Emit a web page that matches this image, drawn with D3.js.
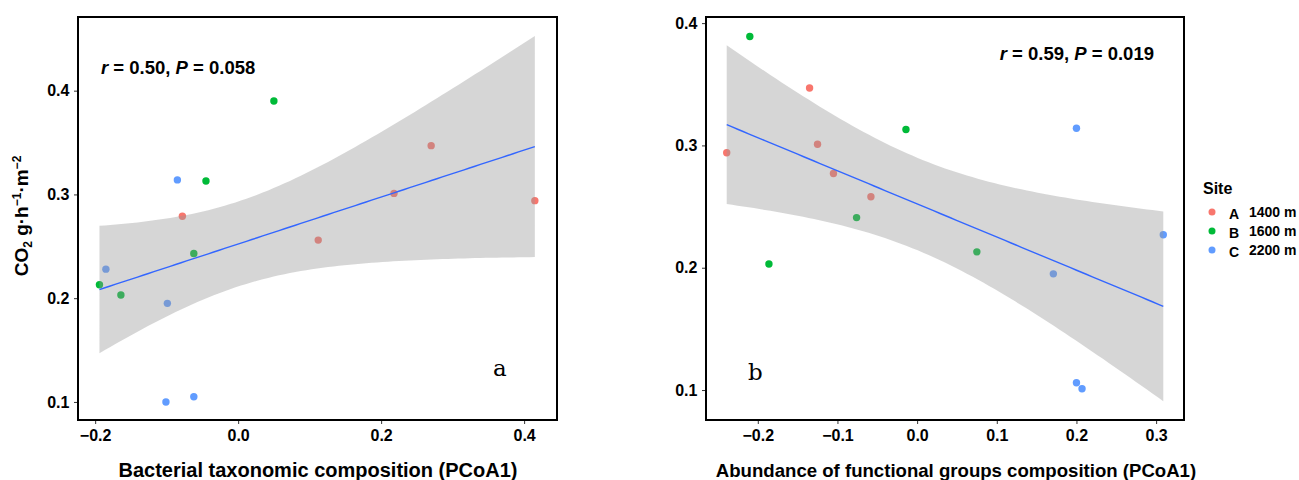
<!DOCTYPE html>
<html>
<head>
<meta charset="utf-8">
<script src="https://cdn.jsdelivr.net/npm/d3@7"></script>
<style>
  body { margin: 0; background: #fff; }
</style>
</head>
<body>
<svg id="chart" width="1299" height="480" font-family="Liberation Sans, Arial, sans-serif"></svg>
<script>
// site groups
var sites = ["A", "B", "C"];
var siteLabels = ["1400 m", "1600 m", "2200 m"];
var siteColors = ["#F8766D", "#00BA38", "#619CFF"];

// panel a: bacterial taxonomic composition (PCoA1) vs CO2
var aSite = ["A","A","A","A","A", "B","B","B","B","B", "C","C","C","C","C"];
var aX = [0.270, 0.218, 0.112, 0.415, -0.078, 0.050, -0.045, -0.062, -0.164, -0.194, -0.085, -0.185, -0.099, -0.101, -0.062];
var aY = [0.347, 0.301, 0.256, 0.294, 0.279, 0.390, 0.313, 0.243, 0.203, 0.213, 0.314, 0.228, 0.195, 0.100, 0.105];

// panel b: abundance of functional groups composition (PCoA1) vs CO2
var bSite = ["A","A","A","A","A", "B","B","B","B","B", "C","C","C","C","C"];
var bX = [-0.135, -0.239, -0.125, -0.105, -0.058, -0.210, -0.014, -0.076, -0.186, 0.075, 0.200, 0.309, 0.171, 0.200, 0.207];
var bY = [0.347, 0.294, 0.301, 0.277, 0.258, 0.389, 0.313, 0.241, 0.203, 0.213, 0.314, 0.227, 0.195, 0.106, 0.101];

var aXTicks = [-0.2, 0.0, 0.2, 0.4];
var bXTicks = [-0.2, -0.1, 0.0, 0.1, 0.2, 0.3];
var yTicks = [0.1, 0.2, 0.3, 0.4];

var svg = d3.select("#chart");
var color = d3.scaleOrdinal().domain(sites).range(siteColors);

// linear fit + 95% CI, like geom_smooth(method = "lm")
function lmFit(xs, ys) {
  var n = xs.length;
  var mx = d3.mean(xs), my = d3.mean(ys);
  var sxx = 0, sxy = 0;
  for (var i = 0; i < n; i++) {
    sxx += (xs[i] - mx) * (xs[i] - mx);
    sxy += (xs[i] - mx) * (ys[i] - my);
  }
  var b = sxy / sxx, a = my - b * mx;
  var sse = 0;
  for (var j = 0; j < n; j++) sse += Math.pow(ys[j] - (a + b * xs[j]), 2);
  var s = Math.sqrt(sse / (n - 2));
  var t = 2.160; // t(0.975, 13)
  var lo = d3.min(xs), hi = d3.max(xs);
  var out = [];
  for (var k = 0; k <= 80; k++) {
    var x = lo + (hi - lo) * k / 80;
    var fit = a + b * x;
    var se = s * Math.sqrt(1 / n + (x - mx) * (x - mx) / sxx);
    out.push({ x: x, y: fit, ymin: fit - t * se, ymax: fit + t * se });
  }
  return out;
}

function panel(opt) {
  var x = d3.scaleLinear().domain(opt.xDomain).range([opt.left, opt.right]);
  var y = d3.scaleLinear().domain(opt.yDomain).range([opt.bottom, opt.top]);
  var g = svg.append("g");

  var pts = opt.xs.map(function(v, i) { return { x: v, y: opt.ys[i], site: opt.site[i] }; });
  g.selectAll("circle").data(pts).enter().append("circle")
    .attr("cx", function(d) { return x(d.x); })
    .attr("cy", function(d) { return y(d.y); })
    .attr("r", 3.7)
    .attr("fill", function(d) { return color(d.site); });

  var fit = lmFit(opt.xs, opt.ys);
  g.append("path").datum(fit)
    .attr("fill", "#999999").attr("fill-opacity", 0.4)
    .attr("d", d3.area()
      .x(function(d) { return x(d.x); })
      .y0(function(d) { return y(d.ymin); })
      .y1(function(d) { return y(d.ymax); }));
  g.append("path").datum(fit)
    .attr("fill", "none").attr("stroke", "#3366FF").attr("stroke-width", 1.4)
    .attr("d", d3.line()
      .x(function(d) { return x(d.x); })
      .y(function(d) { return y(d.y); }));

  // frame
  g.append("rect")
    .attr("x", opt.left).attr("y", opt.top)
    .attr("width", opt.right - opt.left).attr("height", opt.bottom - opt.top)
    .attr("fill", "none").attr("stroke", "#000").attr("stroke-width", 2);

  var ax = g.append("g").attr("transform", "translate(0," + (opt.bottom + 1) + ")")
    .call(d3.axisBottom(x).tickValues(opt.xTicks).tickSize(3).tickFormat(d3.format(".1f")));
  var ay = g.append("g").attr("transform", "translate(" + (opt.left - 1) + ",0)")
    .call(d3.axisLeft(y).tickValues(yTicks).tickSize(3).tickFormat(d3.format(".1f")));
  [ax, ay].forEach(function(a) {
    a.attr("font-family", null).attr("font-size", null);
    a.select(".domain").remove();
    a.selectAll(".tick line").attr("stroke", "#333");
    a.selectAll(".tick text")
      .attr("font-size", 16).attr("font-weight", "bold").attr("fill", "#000");
  });
  ax.selectAll(".tick text").attr("dy", "0.85em");
  ay.selectAll(".tick text").attr("dx", "-0.1em");

  g.append("text")
    .attr("x", opt.titleX).attr("y", 477)
    .attr("text-anchor", "middle").attr("font-size", opt.titleSize).attr("font-weight", "bold")
    .text(opt.xTitle);

  var st = g.append("text").attr("x", opt.statX).attr("y", opt.statY)
    .attr("text-anchor", opt.statAnchor)
    .attr("font-size", 18.5).attr("font-weight", "bold");
  st.append("tspan").attr("font-style", "italic").text("r");
  st.append("tspan").text(" = " + opt.r + ", ");
  st.append("tspan").attr("font-style", "italic").text("P");
  st.append("tspan").text(" = " + opt.p);

  g.append("text").attr("x", opt.tagX).attr("y", opt.tagY)
    .attr("font-family", "DejaVu Serif, Liberation Serif, serif")
    .attr("font-size", 23).text(opt.tag);
}

panel({
  left: 78, right: 557, top: 17, bottom: 420,
  xDomain: [-0.224, 0.446], yDomain: [0.0826, 0.471],
  xs: aX, ys: aY, site: aSite, xTicks: aXTicks,
  xTitle: "Bacterial taxonomic composition (PCoA1)", titleX: 318, titleSize: 20,
  r: "0.50", p: "0.058", statX: 101, statY: 74, statAnchor: "start",
  tag: "a", tagX: 493, tagY: 376
});

panel({
  left: 706, right: 1184, top: 17, bottom: 420,
  xDomain: [-0.265, 0.335], yDomain: [0.0755, 0.405],
  xs: bX, ys: bY, site: bSite, xTicks: bXTicks,
  xTitle: "Abundance of functional groups composition (PCoA1)", titleX: 956, titleSize: 18.6,
  r: "0.59", p: "0.019", statX: 1154, statY: 60, statAnchor: "end",
  tag: "b", tagX: 748, tagY: 380
});

// y axis title
var yt = svg.append("text")
  .attr("transform", "translate(28,216) rotate(-90)")
  .attr("text-anchor", "middle").attr("font-size", 19).attr("font-weight", "bold");
yt.append("tspan").text("CO");
yt.append("tspan").attr("font-size", 12).attr("dy", 4).text("2");
yt.append("tspan").attr("dy", -4).text(" g·h");
yt.append("tspan").attr("font-size", 12).attr("dy", -7).text("−1");
yt.append("tspan").attr("dy", 7).text("·m");
yt.append("tspan").attr("font-size", 12).attr("dy", -7).text("−2");

// legend
var lg = svg.append("g").attr("transform", "translate(1203,0)");
lg.append("text").attr("x", 0).attr("y", 194)
  .attr("font-size", 16).attr("font-weight", "bold").text("Site");
var items = lg.selectAll("g.item").data(sites).enter().append("g").attr("class", "item")
  .attr("transform", function(d, i) { return "translate(0," + (212 + i * 19) + ")"; });
items.append("circle").attr("cx", 9).attr("cy", 0).attr("r", 3.5)
  .attr("fill", function(d) { return color(d); });
items.append("text").attr("x", 26).attr("y", 7)
  .attr("font-size", 14).attr("font-weight", "bold").text(function(d) { return d; });
items.append("text").attr("x", 46).attr("y", 5)
  .attr("font-size", 14).attr("font-weight", "bold")
  .text(function(d, i) { return siteLabels[i]; });
</script>
</body>
</html>
